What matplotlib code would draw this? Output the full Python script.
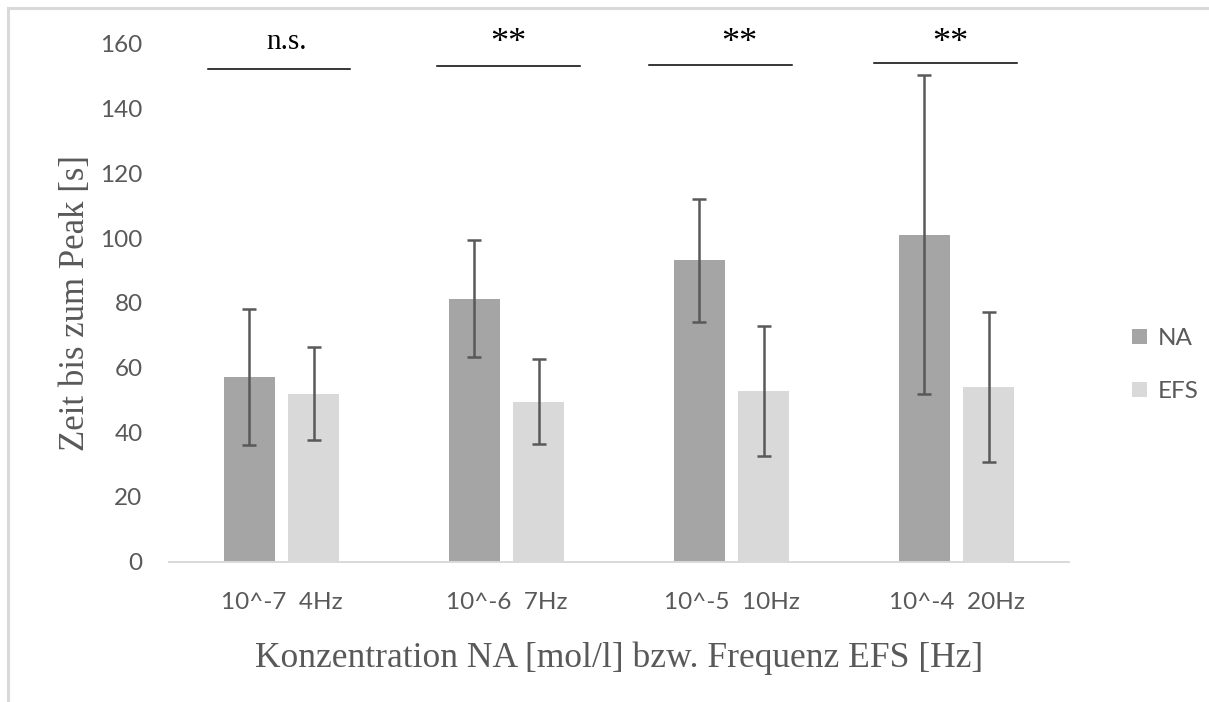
import matplotlib
matplotlib.use("Agg")
import matplotlib.pyplot as plt
from matplotlib.lines import Line2D
import numpy as np

# Data
categories = ["10^-7  4Hz", "10^-6  7Hz", "10^-5  10Hz", "10^-4  20Hz"]
na_mean = [57.2, 81.3, 93.2, 101.1]
na_err = [21.0, 18.2, 19.0, 49.3]
efs_mean = [51.9, 49.5, 52.8, 54.1]
efs_err = [14.4, 13.0, 20.0, 23.2]
significance = ["n.s.", "**", "**", "**"]
series_names = ["NA", "EFS"]
y_ticks = [0, 20, 40, 60, 80, 100, 120, 140, 160]

W, H = 1209, 702
fig = plt.figure(figsize=(W / 100, H / 100), dpi=100)
fig.patch.set_facecolor("white")

ax = fig.add_axes([169 / W, 1 - 561.7 / H, 900 / W, (561.7 - 43.9) / H])

sans = ["Lato", "DejaVu Sans"]
serif = ["Liberation Serif", "DejaVu Serif"]
grey_text = "#595959"

x = np.arange(len(categories))
bw = 0.225
off = 0.1425
err_kw = dict(ecolor="#595959", elinewidth=1.8, capsize=5, capthick=1.8)

b1 = ax.bar(x - off, na_mean, bw, color="#A5A5A5", yerr=na_err,
            error_kw=err_kw, label=series_names[0], zorder=2)
b2 = ax.bar(x + off, efs_mean, bw, color="#D9D9D9", yerr=efs_err,
            error_kw=err_kw, label=series_names[1], zorder=2)

ax.set_xlim(-0.5, len(categories) - 0.5)
ax.set_ylim(0, 160)
ax.set_yticks(y_ticks)
ax.set_yticklabels([str(v) for v in y_ticks], family=sans, fontsize=17.5,
                   color=grey_text)
ax.set_xticks(x)
ax.set_xticklabels(categories, family=sans, fontsize=17.5, color=grey_text)
ax.tick_params(axis="y", length=0, pad=19)
ax.tick_params(axis="x", length=0, pad=22)

for s in ["top", "right", "left"]:
    ax.spines[s].set_visible(False)
ax.spines["bottom"].set_color("#D9D9D9")
ax.spines["bottom"].set_linewidth(1.4)

ax.set_ylabel("Zeit bis zum Peak [s]", family=serif, fontsize=25,
              color=grey_text, labelpad=6)
ax.set_xlabel("Konzentration NA [mol/l] bzw. Frequenz EFS [Hz]",
              family=serif, fontsize=25.6, color=grey_text, labelpad=20)

# Significance brackets above each group (x extents relative to group centre)
bracket_lo = [-0.327, -0.307, -0.367, -0.365]
bracket_hi = [0.305, 0.325, 0.27, 0.27]
bracket_y = [152.3, 153.2, 153.6, 154.1]
label_dx = [0.024, 0.009, 0.033, -0.027]
for i, lab in enumerate(significance):
    ax.plot([i + bracket_lo[i], i + bracket_hi[i]],
            [bracket_y[i], bracket_y[i]], color="black",
            lw=1.1, clip_on=False, zorder=3)
    if lab == "n.s.":
        ax.text(i + label_dx[i], 160.6, lab, family=serif, fontsize=21,
                ha="center", va="center", color="black", clip_on=False)
    else:
        ax.text(i + label_dx[i], 160.0, lab, family=serif, fontsize=26,
                ha="center", va="center", color="black", clip_on=False)

leg = fig.legend(handles=[b1, b2], labels=series_names,
                 loc="center left", bbox_to_anchor=(1120 / W, 1 - 365 / H),
                 frameon=False, prop={"family": sans, "size": 17.5},
                 handlelength=0.6, handleheight=0.6, handletextpad=0.45,
                 labelspacing=1.33, borderpad=0)
for t in leg.get_texts():
    t.set_color(grey_text)

# Chart area border (top and left edges)
fig.add_artist(Line2D([8 / W, 1], [1 - 8 / H, 1 - 8 / H], color="#D9D9D9",
                      lw=2.2, transform=fig.transFigure))
fig.add_artist(Line2D([8 / W, 8 / W], [0, 1 - 8 / H], color="#D9D9D9",
                      lw=2.2, transform=fig.transFigure))

fig.savefig("out.png", dpi=100, facecolor="white")
